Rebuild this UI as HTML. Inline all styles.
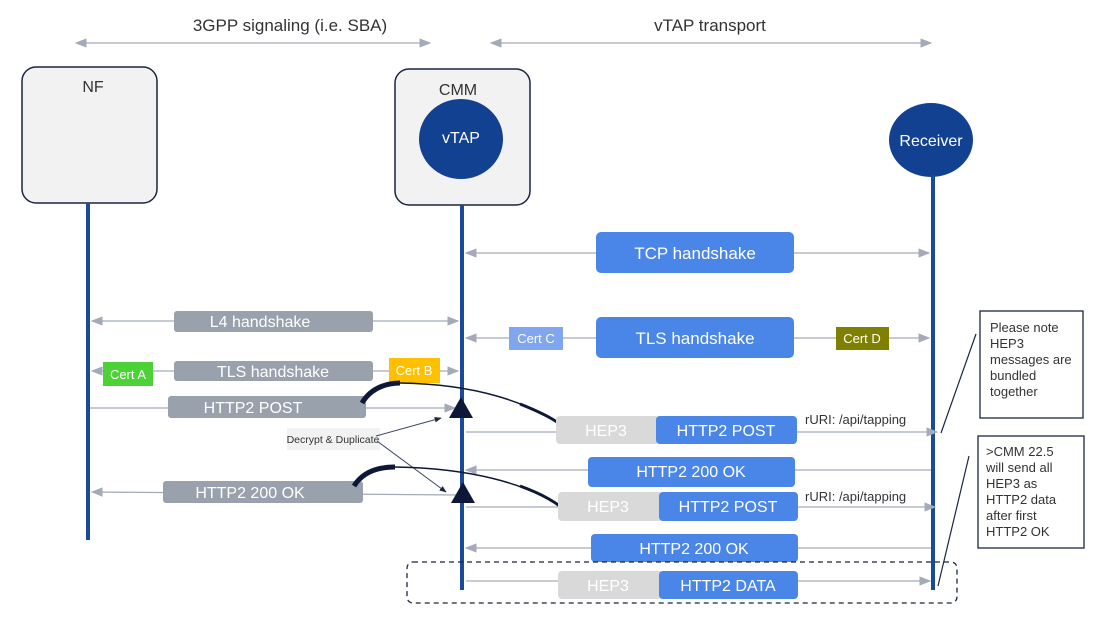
<!DOCTYPE html>
<html><head><meta charset="utf-8"><style>
html,body{margin:0;padding:0;background:#fff;}
svg{display:block;font-family:"Liberation Sans",sans-serif;}
</style></head><body>
<svg width="1105" height="632" viewBox="0 0 1105 632" xmlns="http://www.w3.org/2000/svg">
<defs>
<marker id="ga" viewBox="0 0 10 10" refX="9" refY="5" markerWidth="9" markerHeight="9" orient="auto-start-reverse"><path d="M0,1 L10,5 L0,9 z" fill="#a3abb8"/></marker>
<marker id="ba" viewBox="0 0 10 10" refX="9" refY="5" markerWidth="7" markerHeight="7" orient="auto"><path d="M0,1 L10,5 L0,9 z" fill="#1a2540"/></marker>
<marker id="bk" viewBox="0 0 10 10" refX="8" refY="5" markerWidth="4" markerHeight="4" orient="auto"><path d="M0,0 L10,5 L0,10 L3,5 z" fill="#0d1838"/></marker>
</defs>
<g stroke="#a3abb8" stroke-width="1.3" fill="none">
<line x1="76" y1="43" x2="430" y2="43" marker-start="url(#ga)" marker-end="url(#ga)"/>
<line x1="491" y1="43" x2="931" y2="43" marker-start="url(#ga)" marker-end="url(#ga)"/>
</g>
<text x="290" y="31" font-size="17" text-anchor="middle" fill="#333">3GPP signaling (i.e. SBA)</text>
<text x="710" y="31" font-size="17" text-anchor="middle" fill="#333">vTAP transport</text>
<rect x="22" y="67" width="135" height="136" rx="14" fill="#f2f2f2" stroke="#1a2540" stroke-width="1.5"/>
<text x="93" y="92" font-size="16" text-anchor="middle" fill="#333">NF</text>
<rect x="395" y="69" width="135" height="136" rx="14" fill="#f2f2f2" stroke="#1a2540" stroke-width="1.5"/>
<text x="458" y="95" font-size="16" text-anchor="middle" fill="#333">CMM</text>
<ellipse cx="461" cy="139" rx="42" ry="40" fill="#124191"/>
<text x="461" y="143" font-size="16" text-anchor="middle" fill="#fff">vTAP</text>
<ellipse cx="931" cy="140" rx="42" ry="37" fill="#124191"/>
<text x="931" y="146" font-size="16" text-anchor="middle" fill="#fff">Receiver</text>
<g stroke="#1a4a9a" stroke-width="4">
<line x1="88" y1="203" x2="88" y2="540"/>
<line x1="462" y1="205" x2="462" y2="590"/>
<line x1="933" y1="175" x2="933" y2="590"/>
</g>
<g stroke="#a3abb8" stroke-width="1.3" fill="none">
<line x1="466" y1="253" x2="929" y2="253" marker-start="url(#ga)" marker-end="url(#ga)"/>
<line x1="466" y1="338" x2="929" y2="338" marker-start="url(#ga)" marker-end="url(#ga)"/>
<line x1="92" y1="321" x2="458" y2="321" marker-start="url(#ga)" marker-end="url(#ga)"/>
<line x1="92" y1="371" x2="458" y2="371" marker-start="url(#ga)" marker-end="url(#ga)"/>
<line x1="90" y1="408" x2="455" y2="408" marker-end="url(#ga)"/>
<line x1="466" y1="432" x2="937" y2="432" marker-end="url(#ga)"/>
<line x1="931" y1="470" x2="466" y2="470" marker-end="url(#ga)"/>
<line x1="460" y1="495" x2="92" y2="492" marker-end="url(#ga)"/>
<line x1="466" y1="507" x2="935" y2="507" marker-end="url(#ga)"/>
<line x1="931" y1="548" x2="466" y2="548" marker-end="url(#ga)"/>
<line x1="466" y1="581" x2="930" y2="581" marker-end="url(#ga)"/>
</g>
<rect x="596" y="232" width="198" height="41" rx="5" fill="#4a86e8"/>
<text x="695" y="259" font-size="17" text-anchor="middle" fill="#fff">TCP handshake</text>
<rect x="596" y="317" width="198" height="41" rx="5" fill="#4a86e8"/>
<text x="695" y="344" font-size="17" text-anchor="middle" fill="#fff">TLS handshake</text>
<rect x="509" y="327" width="54" height="23" fill="#7fa6ee"/>
<text x="536" y="343" font-size="13" text-anchor="middle" fill="#fff">Cert C</text>
<rect x="836" y="327" width="53" height="23" fill="#808000"/>
<text x="862" y="343" font-size="13" text-anchor="middle" fill="#fff">Cert D</text>
<rect x="174" y="311" width="199" height="21" rx="3" fill="#99a1ad"/>
<text x="260" y="327" font-size="16" text-anchor="middle" fill="#fff">L4 handshake</text>
<rect x="174" y="361" width="199" height="20" rx="3" fill="#99a1ad"/>
<text x="273" y="377" font-size="16" text-anchor="middle" fill="#fff">TLS handshake</text>
<rect x="103" y="362" width="50" height="24" fill="#4cd137"/>
<text x="128" y="379" font-size="13" text-anchor="middle" fill="#fff">Cert A</text>
<rect x="389" y="358" width="51" height="25" fill="#ffc000"/>
<text x="414" y="375" font-size="13" text-anchor="middle" fill="#fff">Cert B</text>
<rect x="168" y="396" width="198" height="22" rx="3" fill="#99a1ad"/>
<text x="253" y="413" font-size="16" text-anchor="middle" fill="#fff">HTTP2 POST</text>
<rect x="163" y="481" width="200" height="22" rx="3" fill="#99a1ad"/>
<text x="250" y="498" font-size="16" text-anchor="middle" fill="#fff">HTTP2 200 OK</text>
<path d="M449,418 L461,397 L473,418 z" fill="#0d1838"/>
<path d="M451,503 L463,482 L475,503 z" fill="#0d1838"/>
<rect x="287" y="428" width="93" height="22" fill="#f2f2f2"/>
<text x="333" y="443" font-size="10.5" text-anchor="middle" fill="#333">Decrypt &amp; Duplicate</text>
<line x1="376" y1="436" x2="441" y2="418" stroke="#3a4560" stroke-width="1" marker-end="url(#ba)"/>
<line x1="377" y1="441" x2="446" y2="492" stroke="#3a4560" stroke-width="1" marker-end="url(#ba)"/>
<g fill="none" stroke="#0d1838">
<path d="M362,403 C372,386 390,383 400,383" stroke-width="5"/>
<path d="M400,383 C470,384 530,400 570,432" stroke-width="1.5"/>
<path d="M520,404 C545,414 560,422 572,434" stroke-width="3" marker-end="url(#bk)"/>
<path d="M354,486 C364,470 382,467 395,467" stroke-width="5"/>
<path d="M395,467 C465,468 530,482 568,512" stroke-width="1.5"/>
<path d="M520,486 C542,494 556,502 570,514" stroke-width="3" marker-end="url(#bk)"/>
</g>
<rect x="556" y="416" width="104" height="28" rx="4" fill="#d9d9d9"/>
<text x="606" y="436" font-size="16" text-anchor="middle" fill="#fff">HEP3</text>
<rect x="656" y="416" width="141" height="28" rx="4" fill="#4a86e8"/>
<text x="726" y="436" font-size="16" text-anchor="middle" fill="#fff">HTTP2 POST</text>
<text x="805" y="424" font-size="13" fill="#333">rURI:  /api/tapping</text>
<rect x="588" y="457" width="207" height="30" rx="4" fill="#4a86e8"/>
<text x="691" y="477" font-size="16" text-anchor="middle" fill="#fff">HTTP2 200 OK</text>
<rect x="558" y="492" width="105" height="29" rx="4" fill="#d9d9d9"/>
<text x="608" y="512" font-size="16" text-anchor="middle" fill="#fff">HEP3</text>
<rect x="659" y="492" width="139" height="29" rx="4" fill="#4a86e8"/>
<text x="728" y="512" font-size="16" text-anchor="middle" fill="#fff">HTTP2 POST</text>
<text x="805" y="501" font-size="13" fill="#333">rURI:  /api/tapping</text>
<rect x="591" y="534" width="207" height="28" rx="4" fill="#4a86e8"/>
<text x="694" y="554" font-size="16" text-anchor="middle" fill="#fff">HTTP2 200 OK</text>
<rect x="558" y="571" width="105" height="28" rx="4" fill="#d9d9d9"/>
<text x="608" y="591" font-size="16" text-anchor="middle" fill="#fff">HEP3</text>
<rect x="659" y="571" width="139" height="28" rx="4" fill="#4a86e8"/>
<text x="728" y="591" font-size="16" text-anchor="middle" fill="#fff">HTTP2 DATA</text>
<rect x="407" y="562" width="550" height="41" rx="6" fill="none" stroke="#1a2540" stroke-width="1.3" stroke-dasharray="5,4"/>
<rect x="980" y="311" width="103" height="107" fill="#fff" stroke="#1a2540" stroke-width="1.3"/>
<text font-size="13" fill="#333"><tspan x="990" y="332">Please note</tspan><tspan x="990" y="348">HEP3</tspan><tspan x="990" y="364">messages are</tspan><tspan x="990" y="380">bundled</tspan><tspan x="990" y="396">together</tspan></text>
<rect x="978" y="436" width="106" height="112" fill="#fff" stroke="#1a2540" stroke-width="1.3"/>
<text font-size="13" fill="#333"><tspan x="986" y="456">&gt;CMM 22.5</tspan><tspan x="986" y="472">will send all</tspan><tspan x="986" y="488">HEP3  as</tspan><tspan x="986" y="504">HTTP2 data</tspan><tspan x="986" y="520">after first</tspan><tspan x="986" y="536">HTTP2 OK</tspan></text>
<line x1="941" y1="433" x2="976" y2="334" stroke="#1a2540" stroke-width="1.2"/>
<line x1="938" y1="586" x2="969" y2="456" stroke="#1a2540" stroke-width="1.2"/>
</svg>
</body></html>
